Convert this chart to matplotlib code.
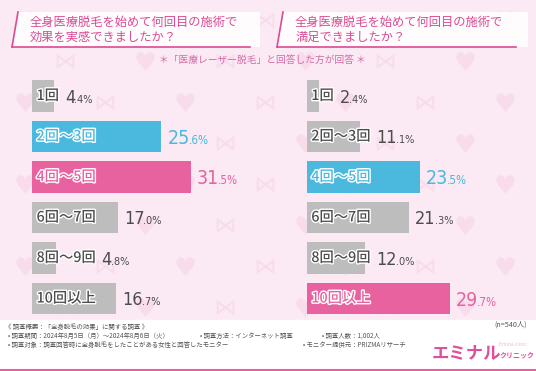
import matplotlib
matplotlib.use("Agg")
import matplotlib.pyplot as plt
import matplotlib.patheffects as pe
from matplotlib import font_manager as fm
from matplotlib.patches import Polygon, Rectangle
from matplotlib.transforms import IdentityTransform

plt.rcParams['font.family'] = ['Noto Sans CJK JP', 'DejaVu Sans']

# data
categories = ['1回', '2回～3回', '4回～5回', '6回～7回', '8回～9回', '10回以上']
effect_pct = [4.4, 25.6, 31.5, 17.0, 4.8, 16.7]
satisfied_pct = [2.4, 11.1, 23.5, 21.3, 12.0, 29.7]
effect_colors = ['grey', 'blue', 'pink', 'grey', 'grey', 'grey']
satisfied_colors = ['grey', 'grey', 'blue', 'grey', 'grey', 'pink']

title_left = '全身医療脱毛を始めて何回目の施術で\n効果を実感できましたか？'
title_right = '全身医療脱毛を始めて何回目の施術で\n満足できましたか？'
subtitle = '＊「医療レーザー脱毛」と回答した方が回答 ＊'
footer_lines = [
    (5, 327, '《 調査概要：「全身脱毛の効果」に関する調査 》'),
    (8, 336, '• 調査期間：2024年8月5日（月）～2024年8月6日（火）'),
    (200, 336, '• 調査方法：インターネット調査'),
    (322, 336, '• 調査人数：1,002人'),
    (8, 345, '• 調査対象：調査回答時に全身脱毛をしたことがある女性と回答したモニター'),
    (303, 345, '• モニター提供元：PRIZMAリサーチ'),
]

palette = {'grey': '#bdbdbd', 'blue': '#4bb8de', 'pink': '#e8629f'}
value_color = {'grey': '#4d4d4d', 'blue': '#4bb8de', 'pink': '#e8629f'}
PINK = '#dc4b93'
BG = '#fbe9f4'


def pick_number_font():
    names = {(f.name, f.stretch) for f in fm.fontManager.ttflist}
    for name, stretch in [('Roboto Condensed', 'normal'), ('Liberation Sans Narrow', 'normal'),
                          ('Liberation Sans Narrow', 'condensed'), ('DejaVu Sans', 'condensed'),
                          ('Open Sans Condensed', 'condensed')]:
        if (name, stretch) in names:
            return dict(family=name, stretch=stretch)
    return dict(family='Roboto', stretch='normal')


num_font = pick_number_font()

W, H = 536, 371
fig = plt.figure(figsize=(W / 100, H / 100), dpi=100)
bg = fig.add_axes([0, 0, 1, 1], zorder=0)
bg.set_xlim(0, W)
bg.set_ylim(H, 0)
bg.axis('off')
bg.add_patch(Rectangle((0, 0), W, H, color=BG, zorder=0))

# faint heart / bow pattern
hx, hy, bx, by = [], [], [], []
for r, yy in enumerate(range(20, 330, 41)):
    for c, xx in enumerate(range(25 + (r % 2) * 40, W + 20, 80)):
        if (c + r) % 2 == 0:
            hx.append(xx); hy.append(yy)
        else:
            bx.append(xx); by.append(yy)
bg.scatter(hx, hy, marker='$\u2665$', s=180, color='#f8dcec', linewidths=0, zorder=1)
bg.scatter(bx, by, marker='$\u22c8$', s=160, color='#f8dcec', linewidths=0, zorder=1)

bg.add_patch(Rectangle((0, 320), W, H - 320, color='white', zorder=2))
bg.plot([0, W], [370, 370], color='#e8629f', lw=1.5, zorder=3)

# title boxes
for x0, x1, line_end, text in [(18, 260, 250, title_left), (283, 528, 516, title_right)]:
    bg.add_patch(Polygon([(x0, 12), (x1, 12), (x1, 47), (x0 - 6, 47)],
                         closed=True, facecolor='white', alpha=0.9, edgecolor='none', zorder=3))
    bg.plot([x0, x0 - 6], [12, 47], color=PINK, lw=1.2, zorder=4)
    bg.plot([x0 - 6, line_end], [47, 47], color=PINK, lw=1.2, zorder=4)
    bg.text(x0 + 12, 30, text, fontsize=8.8, color=PINK, va='center', ha='left',
            linespacing=1.25, zorder=5)

bg.text(262, 60, subtitle, fontsize=7, color='#d46aa6', ha='center', va='center', zorder=5)

for x, y, t in footer_lines:
    bg.text(x, y, t, fontsize=4.6, color='#555555', ha='left', va='center', zorder=5)

bg.text(527, 325, '(n=540人)', fontsize=5.2, color='#555555', ha='right', va='center', zorder=5)
bg.text(432, 353, 'エミナル', fontsize=12.5, color='#e0509a', ha='left', va='center',
        weight='bold', zorder=5)
bg.text(500, 356, 'クリニック', fontsize=5, color='#e0509a', ha='left', va='center',
        weight='bold', zorder=5)
bg.text(527, 345, 'Emina clinic', fontsize=3.5, color='#f2b5d2', ha='right', va='center', zorder=5)

# bar panels
panels = [
    (32, 230, 5.05, effect_pct, effect_colors),
    (307, 222, 4.8, satisfied_pct, satisfied_colors),
]
top, row_h = 75.75, 40.5
ax_h = row_h * len(categories)

renderer = fig.canvas.get_renderer()

for x_px, w_px, px_per_pct, vals, cols in panels:
    ax = fig.add_axes([x_px / W, (H - top - ax_h) / H, w_px / W, ax_h / H], zorder=6)
    ax.set_xlim(0, w_px / px_per_pct)
    ax.set_ylim(len(categories) - 0.5, -0.5)
    ax.axis('off')
    ax.patch.set_alpha(0)
    ys = list(range(len(categories)))
    ax.barh(ys, vals, height=0.79, color=[palette[c] for c in cols])

    for y, v, cat, col in zip(ys, vals, categories, cols):
        fg = '#4d4d4d' if col == 'grey' else palette[col]
        lab = ax.text(0.9, y, cat, fontsize=10.3, color=fg, va='center', ha='left',
                      weight='medium',
                      path_effects=[pe.Stroke(linewidth=2.0, foreground='white'), pe.Normal()])
        lab_end = lab.get_window_extent(renderer).x1
        bar_end, cy = ax.transData.transform((v, y))
        x_start = max(lab_end, bar_end) + 6
        big = 14 if col != 'grey' else 13
        base = cy - big * 1.389 * 0.72 / 2
        ip, dp = f'{v:.1f}'.split('.')
        t1 = fig.text(x_start, base, ip, transform=IdentityTransform(), fontsize=big,
                      color=value_color[col], va='baseline', ha='left', zorder=7, **num_font)
        x2 = t1.get_window_extent(renderer).x1 - 1
        fig.text(x2, base, '.' + dp + '%', transform=IdentityTransform(), fontsize=big * 0.6,
                 color=value_color[col], va='baseline', ha='left', zorder=7, **num_font)

fig.savefig('out.png', dpi=100)
